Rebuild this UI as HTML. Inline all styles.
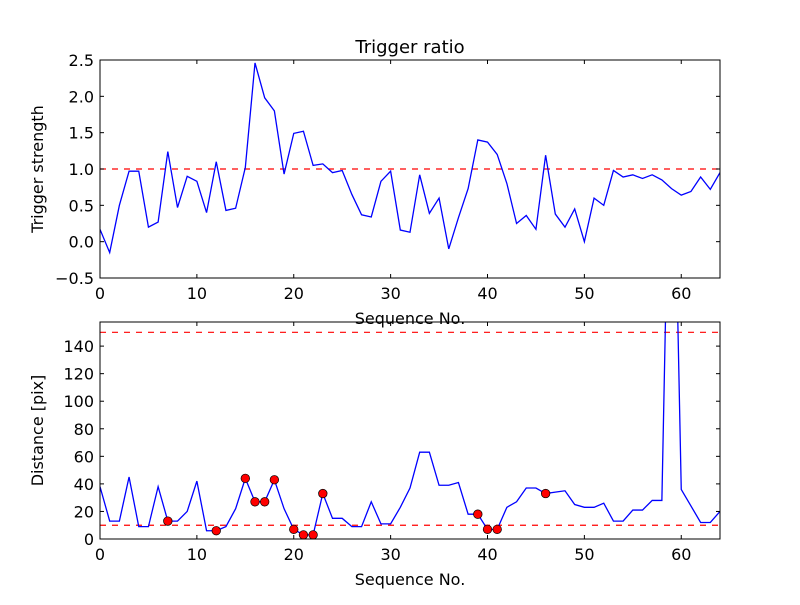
<!DOCTYPE html>
<html><head><meta charset="utf-8"><style>
body{margin:0;background:#fff;}
svg text{font-family:"DejaVu Sans","Liberation Sans",sans-serif;fill:#000;}
</style></head><body>
<svg id="chart" width="800" height="600" xmlns="http://www.w3.org/2000/svg">
<rect width="800" height="600" fill="#fff"/>
<text x="410" y="53" font-size="18" text-anchor="middle">Trigger ratio</text>
<g id="top"></g><g id="bot"></g>
</svg>
<script>
const seq = [];
for (let i = 0; i <= 64; i++) seq.push(i);
const strength = [0.17,-0.15,0.5,0.97,0.97,0.2,0.27,1.24,0.47,0.9,0.83,0.4,1.1,0.43,0.46,1.02,2.46,1.98,1.8,0.93,1.49,1.52,1.05,1.07,0.95,0.98,0.65,0.37,0.34,0.83,0.97,0.16,0.13,0.92,0.39,0.6,-0.1,0.33,0.73,1.4,1.37,1.2,0.8,0.25,0.36,0.17,1.19,0.38,0.2,0.45,0.0,0.6,0.5,0.98,0.89,0.92,0.87,0.92,0.85,0.73,0.64,0.69,0.89,0.72,0.95];
const distance = [38,13,13,45,9,9,38,13,13,20,42,6,6,9,22,44,27,27,43,22,7,3,3,33,15,15,9,9,27,11,11,23,37,63,63,39,39,41,18,18,7,7,23,27,37,37,33,34,35,25,23,23,26,13,13,21,21,28,28,380,36,24,12,12,20];
const markerIdx = [7,12,15,16,17,18,20,21,22,23,39,40,41,46];
const topThreshold = [1.0];
const botThresholds = [10,150];
const xTicks = [0,10,20,30,40,50,60];
const topYTicks = [-0.5,0.0,0.5,1.0,1.5,2.0,2.5];
const botYTicks = [0,20,40,60,80,100,120,140];

const NS = "http://www.w3.org/2000/svg";
function el(tag, attrs, parent, text){
  const e = document.createElementNS(NS, tag);
  for (const k in attrs) e.setAttribute(k, attrs[k]);
  if (text !== undefined) e.textContent = text;
  parent.appendChild(e); return e;
}
function panel(g, L, R, T, B, y0, y1, yTicks, fmt, ylabel, name){
  const xs = v => L + (v - 0) / 64 * (R - L);
  const ys = v => B - (v - y0) / (y1 - y0) * (B - T);
  const clip = el('clipPath', {id: 'clip-' + name}, g);
  el('rect', {x: L, y: T, width: R - L, height: B - T}, clip);
  return {xs, ys, draw(){
    xTicks.forEach(t => {
      const x = xs(t);
      const a = el('line', {x1: x, x2: x, y1: B, y2: B - 4, stroke: '#000'}, g);
      
      
      el('line', {x1: x, x2: x, y1: T, y2: T + 4, stroke: '#000'}, g);
      const tx = el('text', {x: x, y: B + 21, 'font-size': 16, 'text-anchor': 'middle'}, g, String(t));
      
      
    });
    yTicks.forEach(t => {
      const y = ys(t);
      el('line', {x1: L, x2: L + 4, y1: y, y2: y, stroke: '#000'}, g);
      el('line', {x1: R, x2: R - 4, y1: y, y2: y, stroke: '#000'}, g);
      const tx = el('text', {x: L - 6, y: y + 6, 'font-size': 16, 'text-anchor': 'end'}, g, fmt(t));
      
      
    });
    const xl = el('text', {x: (L + R) / 2, y: B + 46, 'font-size': 16, 'text-anchor': 'middle'}, g, 'Sequence No.');
    
    
    const cy = (T + B) / 2;
    const yl = el('text', {x: L - 57, y: cy, 'font-size': 16, 'text-anchor': 'middle', transform: 'rotate(-90 ' + (L - 57) + ' ' + cy + ')'}, g, ylabel);
    
    
  }};
}
const gt = document.getElementById('top'), gb = document.getElementById('bot');
const P1 = panel(gt, 100, 720, 60, 278, -0.5, 2.5, topYTicks, v => v.toFixed(1).replace('-', '\u2212'), 'Trigger strength', 'top');
topThreshold.forEach(v => {
  const l = el('line', {x1: 100, x2: 720, y1: P1.ys(v), y2: P1.ys(v), stroke: '#f00', 'stroke-dasharray': '6,6', 'stroke-width': 1.2}, gt);
  
  
});
const l1 = el('polyline', {points: seq.map((s, i) => P1.xs(s) + ',' + P1.ys(strength[i])).join(' '), fill: 'none', stroke: '#00f', 'stroke-width': 1.3, 'clip-path': 'url(#clip-top)'}, gt);


const f1 = el('rect', {x: 100, y: 60, width: 620, height: 218, fill: 'none', stroke: '#000'}, gt);


P1.draw();
const P2 = panel(gb, 100, 720, 322, 539, 0, 157.5, botYTicks, v => String(v), 'Distance [pix]', 'bot');
botThresholds.forEach(v => {
  const l = el('line', {x1: 100, x2: 720, y1: P2.ys(v), y2: P2.ys(v), stroke: '#f00', 'stroke-dasharray': '6,6', 'stroke-width': 1.2}, gb);
  
  
});
const l2 = el('polyline', {points: seq.map((s, i) => P2.xs(s) + ',' + P2.ys(distance[i])).join(' '), fill: 'none', stroke: '#00f', 'stroke-width': 1.3, 'clip-path': 'url(#clip-bot)'}, gb);


markerIdx.forEach(i => {
  const c = el('circle', {cx: P2.xs(seq[i]), cy: P2.ys(distance[i]), r: 4.3, fill: '#f00', stroke: '#000', 'stroke-width': 0.7}, gb);
  
  
});
const f2 = el('rect', {x: 100, y: 322, width: 620, height: 217, fill: 'none', stroke: '#000'}, gb);


P2.draw();
</script>
</body></html>
